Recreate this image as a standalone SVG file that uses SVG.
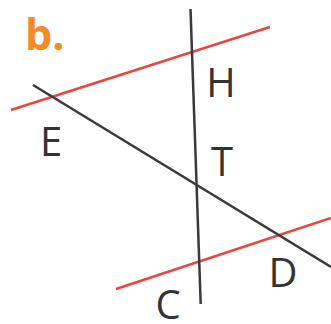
<svg xmlns="http://www.w3.org/2000/svg" width="331" height="324" viewBox="0 0 331 324">
<style>
.red{stroke:#E8453C;stroke-width:2.5;fill:none}
.blk{stroke:#3a3a3a;stroke-width:2.5;fill:none}
.lbl{font-family:"Open Sans","Liberation Sans",sans-serif;font-size:40px;fill:#333;text-anchor:middle}
.title{font-family:"Open Sans","Liberation Sans",sans-serif;font-size:43px;font-weight:bold;fill:#F58A28}
</style>
<rect width="331" height="324" fill="#fff"/>
<g id="connectors">
<line class="red" x1="11" y1="110" x2="270" y2="27"/>
<line class="red" x1="116" y1="289" x2="331" y2="218"/>
<line class="blk" x1="33" y1="85" x2="331" y2="267"/>
<line class="blk" x1="190.5" y1="9" x2="200.7" y2="304"/>
</g>
<g id="title"><text class="title" x="25" y="50">b.</text></g>
<g id="H"><text class="lbl" x="221" y="97">H</text></g>
<g id="E"><text class="lbl" x="51" y="156">E</text></g>
<g id="T"><text class="lbl" x="222" y="176">T</text></g>
<g id="D"><text class="lbl" x="283" y="287">D</text></g>
<g id="C"><text class="lbl" x="168" y="319">C</text></g>
</svg>
